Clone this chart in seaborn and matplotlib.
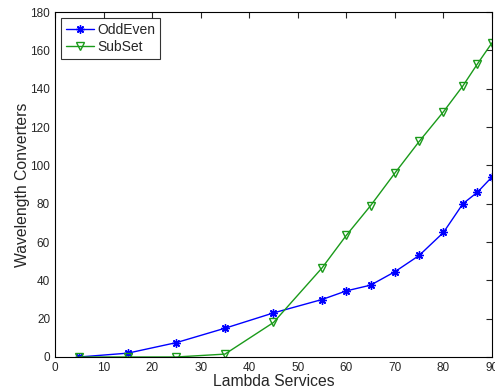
import numpy as np
import pandas as pd
import matplotlib
matplotlib.use('Agg')
import matplotlib.pyplot as plt
import seaborn as sns

# values
lambda_services = [5, 15, 25, 35, 45, 55, 60, 65, 70, 75, 80, 84, 87, 90]
odd_even = [0, 2, 7.5, 15, 23, 30, 34.5, 37.5, 44.5, 53, 65, 80, 86, 94]
sub_set = [0, 0, 0, 1.5, 18, 46.5, 63.5, 79, 96, 112.5, 128, 141.5, 153, 164]

sns.set_style('white')
plt.rcParams['font.family'] = ['Liberation Sans', 'DejaVu Sans']

df = pd.DataFrame({
    'Lambda Services': lambda_services * 2,
    'Wavelength Converters': odd_even + sub_set,
    'method': ['OddEven'] * len(odd_even) + ['SubSet'] * len(sub_set),
})

colors = {'OddEven': '#0000ff', 'SubSet': '#1a9a1a'}

fig = plt.figure(figsize=(4.95, 3.91), dpi=100)
ax = fig.add_axes([0.111, 0.087, 0.883, 0.882])

sns.lineplot(data=df, x='Lambda Services', y='Wavelength Converters', hue='method',
             style='method', palette=colors,
             markers={'OddEven': '*', 'SubSet': 'v'}, dashes=False, ax=ax,
             linewidth=1.0, markersize=6)


def fix_markers(lines):
    # seaborn draws white marker edges; make them look like matlab
    for line in lines:
        c = line.get_color()
        if line.get_marker() == '*':
            line.set_marker((8, 2, 0))  # matlab style asterisk
        line.set_markeredgecolor(c)
        line.set_markeredgewidth(1.0)
        line.set_markerfacecolor('none')


fix_markers(ax.lines)

ax.set_xlim(0, 90)
ax.set_ylim(0, 180)
ax.set_xticks(np.arange(0, 91, 10))
ax.set_yticks(np.arange(0, 181, 20))
ax.tick_params(direction='in', top=True, right=True, labelsize=8.5, length=4, width=0.8)
for s in ax.spines.values():
    s.set_color('black')
    s.set_linewidth(0.8)
ax.set_xlabel('Lambda Services', fontsize=11.3, labelpad=0)
ax.set_ylabel('Wavelength Converters', fontsize=11.3, labelpad=0)

leg = ax.legend(loc='upper left', fontsize=10, frameon=True, fancybox=False,
                edgecolor='black', handlelength=2.0, handletextpad=0.25,
                labelspacing=0.2, borderaxespad=0.45, borderpad=0.35)
leg.get_frame().set_linewidth(0.8)
fix_markers(leg.legend_handles)

fig.savefig('out.png', dpi=100)
